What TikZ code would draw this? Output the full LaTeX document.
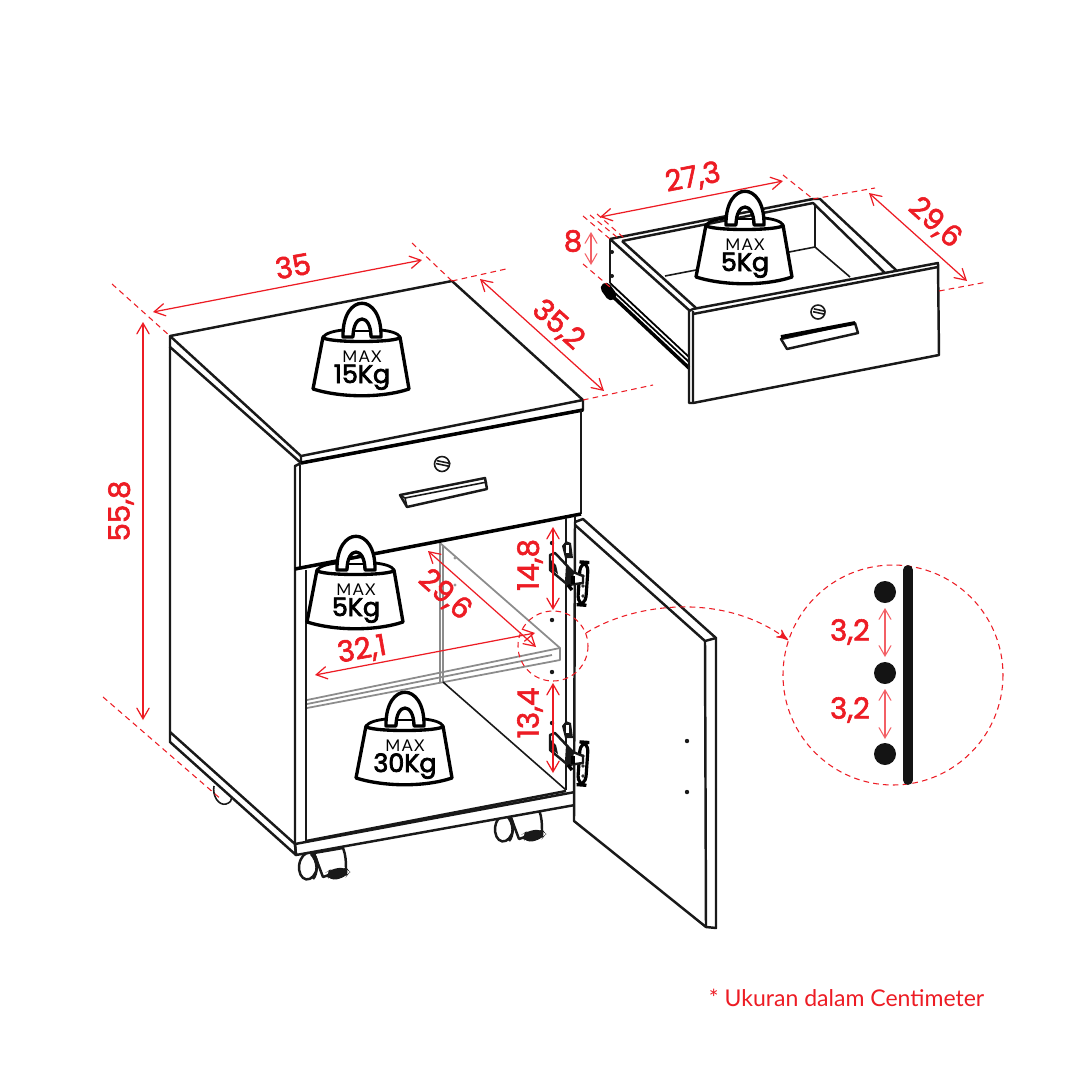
\documentclass[tikz,border=0pt]{standalone}
\usepackage{fontspec}
\setmainfont{Poppins}
\newfontfamily\dimfont[FakeBold=2]{Poppins}
\newfontfamily\kgfont[FakeBold=3]{Poppins}
\newfontfamily\maxfont[LetterSpace=8]{Lato}
\newfontfamily\notefont{Lato}
\usetikzlibrary{arrows}
\definecolor{dimred}{HTML}{ED1C24}
\tikzset{
  ink/.style={line width=.7pt,line join=round,black!90},
  thin ink/.style={line width=.45pt,line join=round,black!90},
  shelf/.style={line width=.5pt,line join=round,black!45},
  dimline/.style={<->,>=angle 60,dimred,line width=.35pt},
  softline/.style={<->,>=angle 60,dimred!70,line width=.3pt},
  dimdash/.style={dimred,line width=.3pt,dash pattern=on 1.6pt off 1.2pt},
  dimtext/.style={dimred,font=\fontsize{8.3}{10}\dimfont,inner sep=0pt},
  weightbag/.pic={
    \draw[line width=.95pt,fill=white,line join=round] (-19,-13) .. controls (-20,-58) and (20,-58) .. (19,-13) -- (9,-13) .. controls (9,-37) and (-9,-37) .. (-9,-13) -- cycle;
    \draw[line width=.95pt,fill=white,line join=round] (-39,-13) .. controls (-39,-7) and (38,-7) .. (38,-13) -- (47,39) .. controls (20,48) and (-20,48) .. (-49,39) -- cycle;
    \draw[line width=.8pt] (-39,-13) .. controls (-36,-17) and (-28,-19) .. (-19,-20) (19,-20) .. controls (28,-19) and (36,-17) .. (38,-13);
    \draw[line width=.6pt] (-9,-19) -- (9,-19);
    \node[anchor=base,inner sep=0pt,font=\fontsize{4.6}{6}\maxfont] (max) at (0,12) {MAX};
    \node[anchor=base,inner sep=0pt,font=\fontsize{7.2}{9}\kgfont] (load) at (0,33) {#1};
  },
  caster/.pic={
    \draw[ink,fill=white] (6,-14) -- (35,-19) .. controls (38,-12) and (38,-4) .. (38,2) -- (15,10) -- cycle;
    \draw[ink,fill=white,rotate=-8] (0,-1) circle [x radius=9,y radius=13.5];
    \draw[ink] (3,-13) .. controls (10,-6) and (10,7) .. (5,12);
    \fill[black!90,rounded corners=2pt] (17,6) -- (23,2) -- (38,0) -- (42,5) -- (38,10) -- (22,14) -- cycle;
  },
  hingeset/.pic={
    \fill[black!90] (0,0) circle [radius=2.2];
    \draw[line width=.9pt,fill=white,rotate around={-4:(30,40)},rounded corners=2.5pt] (27,19) rectangle (35,62);
    \fill[black!80] (31,33) circle [radius=1.8] (31,43) circle [radius=1.8] (31,53) circle [radius=1.8];
    \fill[black!90] (10,3) -- (14,-2) -- (19,0) -- (21,15) -- (13,15) -- cycle;
    \fill[white] (14,2) rectangle (17,10);
    \draw[ink,fill=white] (-2,12) -- (-2,27) -- (16,42) -- (31,40) -- (31,33) -- (21,29) -- (3,10) -- cycle;
    \fill[black!90] (-3,15) -- (4,22) -- (6,31) -- (-3,25) -- cycle;
    \fill[black!90] (14,22) -- (22,30) -- (19,44) -- (13,38) -- cycle;
    \draw[line width=1pt] (16,42) -- (20,47) (21,33) -- (21,41);
  }
}
\begin{document}
\begin{tikzpicture}[x=0.01cm,y=-0.01cm]
    \useasboundingbox (0,0) rectangle (1081,1081);
    \fill[white] (0,0) rectangle (1081,1081);

    \coordinate (TL) at (170,336);
    \coordinate (TB) at (452,281);
    \coordinate (TR) at (583,400);
    \coordinate (TF) at (301,456);
    \coordinate (TLb) at (170,347);
    \coordinate (TFb) at (301,463);
    \coordinate (TRb) at (583,410);
    \coordinate (SL) at (170,732);
    \coordinate (SLb) at (170,742);
    \coordinate (SF) at (295,844);
    \coordinate (SFb) at (296,855);

    \draw[thin ink] (214,786) .. controls (212,796) and (219,806) .. (226,804) .. controls (230,803) and (232,800) .. (232,797);
    \pic at (308,867) {caster};
    \pic at (504,829) {caster};

    \draw[shelf] (440,543) -- (440,682) (443,546) -- (443,682) (440,543) -- (560,648);
    \draw[shelf] (307,700) -- (560,648) -- (560,660) -- (307,708) (307,704) -- (552,655);
    \fill[black!40] (455,558) circle [radius=1.6] (455,585) circle [radius=1.6];
    \draw[thin ink] (443,682) -- (566,790);

    \draw[ink,fill=white] (SFb) -- (575,805) -- (575,792) -- (SF) -- cycle;
    \draw[ink] (306,841) -- (566,791);
    \draw[ink] (TL) -- (TB) -- (TR) -- (TF) -- cycle;
    \draw[ink] (TL) -- (TLb) -- (TFb) -- (TF) (TFb) -- (TRb) -- (TR);
    \draw[ink] (TLb) -- (SLb) -- (SFb) -- (SF) -- (SL) -- (SLb);
    \draw[ink] (SF) -- (295,466) -- (TFb);
    \draw[thin ink] (300,465) -- (300,569);
    \draw[thin ink] (306,570) -- (306,841);
    \draw[line width=1pt] (TFb) -- (TRb);
    \draw[ink] (581,410) -- (581,514);
    \draw[line width=1pt] (295,569) -- (581,514);
    \draw[thin ink] (566,518) -- (566,790);
    \draw[ink] (575,516) -- (575,805);

    \draw[thin ink] (442,464) circle [radius=7.5];
    \draw[thin ink,rotate around={-12:(443,465)}] (436,465) -- (450,465) (436,462) -- (450,462);
    \draw[ink,fill=white] (400,495) -- (485,478) -- (487,489) -- (407,507) -- cycle;
    \draw[thin ink] (400,495) -- (405,498) -- (487,482) (405,498) -- (407,507);

    \draw[ink,fill=white] (575,522) -- (583,519) -- (716,638) -- (716,928) -- (706,927) -- (574,821) -- cycle;
    \draw[ink] (575,525) -- (705,641) -- (706,927) (705,641) -- (716,638);
    \fill[black!90] (687,741) circle [radius=2.2] (687,792) circle [radius=2.2];

    \pic at (552,543) {hingeset};
    \pic at (552,723) {hingeset};
    \fill[black!90] (552,620) circle [radius=2.2] (552,672) circle [radius=2.2];

    \coordinate (DL) at (610,239);
    \coordinate (DB) at (813,199);
    \coordinate (DFl) at (693,309);
    \coordinate (DFr) at (938,263);

    \draw[thin ink] (665,276) -- (815,247) -- (850,277) (815,205) -- (815,247);
    \draw[ink] (DL) -- (DB) -- (820,199) -- (897,271);
    \draw[ink] (622,241) -- (813,203) -- (885,273);
    \draw[ink] (DL) -- (690,311) (622,241) -- (696,308);
    \draw[ink] (DL) -- (610,283);
    \fill[black!90] (612,252) circle [radius=2] (612,276) circle [radius=2];
    \draw[line width=.5pt] (610,283) -- (689,357) (615,293) -- (689,362);
    \draw[line width=1pt] (608,292) -- (689,368);
    \draw[line width=3pt,line cap=round] (606,288) -- (611,295);
    \draw[ink] (689,311) -- (689,403) -- (693,403) -- (939,355) -- (938,263) -- (DFl) -- (689,311);
    \draw[ink] (693,314) -- (938,267) (693,311) -- (693,403);
    \draw[thin ink] (818,312) circle [radius=7];
    \draw[thin ink,rotate around={-12:(819,313)}] (813,313) -- (825,313) (813,310) -- (825,310);
    \draw[ink,fill=white] (781,339) -- (855,323) -- (858,333) -- (787,349) -- cycle;
    \draw[line width=1.1pt] (781,337) -- (855,323);

    \path (112,284) edge[dimdash] (TL)
    (412,243) edge[dimdash] (TB)
    (TB) edge[dimdash] (506,269)
    (TR) edge[dimdash] (653,385)
    (103,697) edge[dimdash] (222,800)
    (583,216) edge[dimdash] (DL)
    (590,215) edge[dimdash] (618,238)
    (597,214) edge[dimdash] (624,238)
    (583,264) edge[dimdash] (610,287)
    (783,175) edge[dimdash] (DB)
    (DB) edge[dimdash] (875,188)
    (939,291) edge[dimdash] (987,282);

    \path (153,312) edge[dimline] (422,260)
    (480,279) edge[dimline] (604,391)
    (143,322) edge[dimline] (143,720)
    (591,232) edge[softline] (591,265)
    (600,217) edge[dimline] (783,181)
    (869,193) edge[dimline] (967,281)
    (428,551) edge[dimline] (536,647)
    (315,675) edge[dimline] (535,633)
    (553,527) edge[dimline] (553,610)
    (553,683) edge[dimline] (553,773)
    (885,608) edge[softline] (885,657)
    (885,689) edge[softline] (885,739);

    \node[dimtext,rotate=10] (w35) at (293,266) {35};
    \node[dimtext,rotate=-42] (d352) at (558,325) {35,2};
    \node[dimtext,rotate=90] (h558) at (121,511) {55,8};
    \node[dimtext] (h8) at (573,241) {8};
    \node[dimtext,rotate=11] (w273) at (693,178) {27,3};
    \node[dimtext,rotate=-42] (d296) at (935,223) {29,6};
    \node[dimtext,rotate=-42] (s296) at (445,595) {29,6};
    \node[dimtext,rotate=10] (w321) at (362,650) {32,1};
    \node[dimtext,rotate=90] (h148) at (530,565) {14,8};
    \node[dimtext,rotate=90] (h134) at (530,713) {13,4};
    \node[dimtext] (g32a) at (850,632) {3,2};
    \node[dimtext] (g32b) at (850,710) {3,2};

    \pic at (362,350) {weightbag={15Kg}};
    \pic at (745,238) {weightbag={5Kg}};
    \pic at (356,583) {weightbag={5Kg}};
    \pic at (405,739) {weightbag={30Kg}};

    \draw[dimdash] (553,646) circle [radius=35];
    \draw[dimdash] (893,675) circle [radius=110];
    \draw[dimdash,-stealth'] (586,633) .. controls (630,605) and (720,590) .. (788,640);

    \draw[line width=2.8pt,line cap=round,black!92] (908,570) -- (908,780);
    \fill[black!92] (885,592) circle [radius=11] (885,673) circle [radius=11] (885,754) circle [radius=11];

    \node[anchor=east,dimred,inner sep=0pt,font=\fontsize{6.55}{8}\notefont] (note) at (985,998) {* Ukuran dalam Centimeter};
\end{tikzpicture}
\end{document}
